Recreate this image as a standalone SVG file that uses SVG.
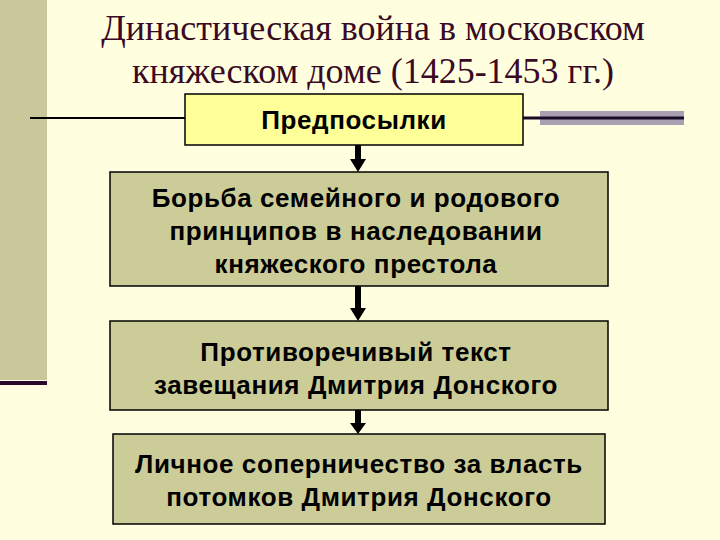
<svg xmlns="http://www.w3.org/2000/svg" width="720" height="540" viewBox="0 0 720 540">
<style>
.box{stroke:#000;stroke-width:1.5}
.t{font-family:"Liberation Sans",Arial,sans-serif;font-weight:bold;font-size:26px;letter-spacing:0.6px;text-anchor:middle;fill:#000}
.title{font-family:"Liberation Serif","Times New Roman",serif;font-size:36px;text-anchor:middle;fill:#3a0a24}
.arr{fill:#000}
</style>
<rect width="720" height="540" fill="#FFFFE0"/>
<rect x="0" y="0" width="47" height="380" fill="#C8C89A"/>
<rect x="0" y="381" width="47" height="4" fill="#2a0a2a"/>
<text class="title" x="373" y="40">Династическая война в московском</text>
<text class="title" x="373" y="83">княжеском доме (1425-1453 гг.)</text>
<line x1="30" y1="118" x2="185" y2="118" stroke="#000" stroke-width="2"/>
<rect x="540" y="111" width="144" height="14" fill="#A8A0B0"/>
<line x1="523" y1="118" x2="684" y2="118" stroke="#1a0a2a" stroke-width="3"/>
<g id="connectors">
<polygon class="arr" points="355,145 361,145 361,159 366,159 358,172 350,159 355,159"/>
<polygon class="arr" points="355,286 361,286 361,308 366,308 358,321 350,308 355,308"/>
<polygon class="arr" points="355,410 361,410 361,423 366,423 358,434 350,423 355,423"/>
</g>
<g id="n1"><rect class="box" x="185" y="94" width="338" height="51" fill="#FFFF99"/>
<text class="t" x="354" y="129">Предпосылки</text></g>
<g id="n2"><rect class="box" x="110" y="172" width="498" height="114" fill="#CCCC99"/>
<text class="t" x="356" y="207">Борьба семейного и родового</text>
<text class="t" x="356" y="240">принципов в наследовании</text>
<text class="t" x="356" y="273">княжеского престола</text></g>
<g id="n3"><rect class="box" x="110" y="321" width="498" height="89" fill="#CCCC99"/>
<text class="t" x="356" y="361">Противоречивый текст</text>
<text class="t" x="356" y="394">завещания Дмитрия Донского</text></g>
<g id="n4"><rect class="box" x="113" y="434" width="492" height="90" fill="#CCCC99"/>
<text class="t" x="359" y="473">Личное соперничество за власть</text>
<text class="t" x="359" y="506">потомков Дмитрия Донского</text></g>
</svg>
